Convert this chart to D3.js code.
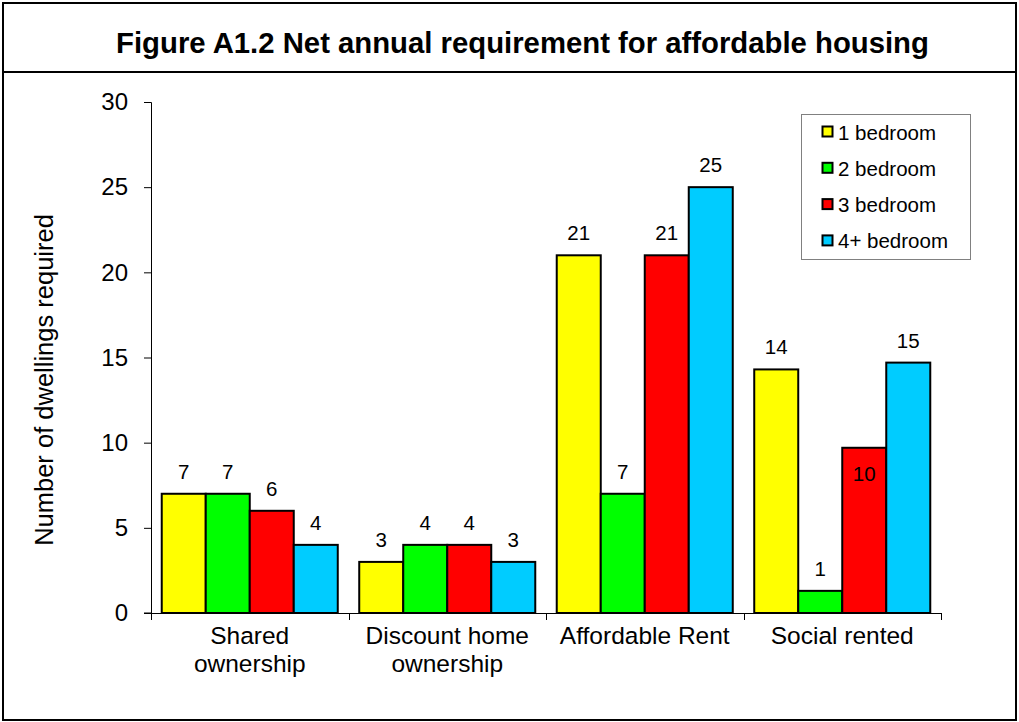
<!DOCTYPE html>
<html>
<head>
<meta charset="utf-8">
<script src="https://cdn.jsdelivr.net/npm/d3@7"></script>
<style>
  body { margin: 0; background: #fff; }
  svg text { font-family: Arial, "Liberation Sans", sans-serif; fill: #000; }
</style>
</head>
<body>
<div id="chart"></div>
<script>
var categories = ["Shared ownership", "Discount home ownership", "Affordable Rent", "Social rented"];
var series = ["1 bedroom", "2 bedroom", "3 bedroom", "4+ bedroom"];
var colors = ["#ffff00", "#00ff00", "#ff0000", "#00ccff"];
var oneBed  = [7, 3, 21, 14.3];
var twoBed  = [7, 4, 7, 1.3];
var threeBed = [6, 4, 21, 9.7];
var fourBed = [4, 3, 25, 14.7];
var yTicks = [0, 5, 10, 15, 20, 25, 30];
// labels that sit inside the bar top rather than above it
var insideLabels = [["Social rented", "3 bedroom"]];

var values = [oneBed, twoBed, threeBed, fourBed];
var W = 1019, H = 722;
var margin = {top: 102, right: 78, bottom: 109, left: 151 };
var width = W - margin.left - margin.right,
    height = H - margin.top - margin.bottom;

var svg = d3.select("#chart").append("svg")
    .attr("width", W)
    .attr("height", H);

// frame and title box
svg.append("rect")
    .attr("x", 3).attr("y", 3)
    .attr("width", W - 6).attr("height", H - 5)
    .attr("fill", "none").attr("stroke", "#000").attr("stroke-width", 2);
svg.append("line")
    .attr("x1", 3).attr("x2", W - 3)
    .attr("y1", 72).attr("y2", 72)
    .attr("stroke", "#000").attr("stroke-width", 2);
svg.append("text")
    .attr("x", W / 2 + 13).attr("y", 53)
    .attr("text-anchor", "middle")
    .style("font-size", "29.3px").style("font-weight", "bold")
    .text("Figure A1.2 Net annual requirement for affordable housing");

var g = svg.append("g")
    .attr("transform", "translate(" + margin.left + "," + margin.top + ")");

var x0 = d3.scaleBand().domain(categories).range([0, width]).padding(0);
var x1 = d3.scaleBand().domain(series).range([0, x0.bandwidth()])
    .paddingInner(0).paddingOuter(0.244);
var y = d3.scaleLinear().domain([0, 30]).range([height, 0]);

// y axis
var yAxis = g.append("g")
    .call(d3.axisLeft(y).tickValues(yTicks).tickSize(7).tickPadding(16).tickFormat(d3.format("d")));
yAxis.selectAll("text").style("font-size", "24px");
yAxis.selectAll("line, path").attr("stroke", "#000");
yAxis.select(".domain").attr("d", "M-7,0.5H0.5V" + height + "H-7");

var rows = [];
categories.forEach(function(c, i) {
  series.forEach(function(s, j) {
    rows.push({cat: c, ser: s, idx: j, v: values[j][i]});
  });
});

function isInside(d) {
  return insideLabels.some(function(p) { return p[0] === d.cat && p[1] === d.ser; });
}

var groups = g.selectAll(".grp")
    .data(categories)
  .enter().append("g")
    .attr("class", "grp")
    .attr("transform", function(d) { return "translate(" + x0(d) + ",0)"; });

groups.selectAll("rect")
    .data(function(c) { return rows.filter(function(r) { return r.cat === c; }); })
  .enter().append("rect")
    .attr("x", function(d) { return x1(d.ser); })
    .attr("y", function(d) { return y(d.v); })
    .attr("width", x1.bandwidth())
    .attr("height", function(d) { return y(0) - y(d.v); })
    .attr("fill", function(d) { return colors[d.idx]; })
    .attr("stroke", "#000")
    .attr("stroke-width", 2);

groups.selectAll(".lbl")
    .data(function(c) { return rows.filter(function(r) { return r.cat === c; }); })
  .enter().append("text")
    .attr("class", "lbl")
    .attr("x", function(d) { return x1(d.ser) + x1.bandwidth() / 2; })
    .attr("y", function(d) { return isInside(d) ? y(d.v) + 33 : y(d.v) - 15; })
    .attr("text-anchor", "middle")
    .style("font-size", "20.5px")
    .text(function(d) { return d3.format(".0f")(d.v); });

// x axis
var xAxis = g.append("g")
    .attr("transform", "translate(0," + height + ")");
xAxis.append("line")
    .attr("x1", 0).attr("x2", width)
    .attr("y1", 0.5).attr("y2", 0.5)
    .attr("stroke", "#000");
xAxis.selectAll(".tk")
    .data(d3.range(categories.length + 1))
  .enter().append("line")
    .attr("x1", function(i) { return Math.round(i * x0.step()) + 0.5; })
    .attr("x2", function(i) { return Math.round(i * x0.step()) + 0.5; })
    .attr("y1", 0).attr("y2", 7)
    .attr("stroke", "#000");

var catText = xAxis.selectAll(".cat")
    .data(categories)
  .enter().append("text")
    .attr("class", "cat")
    .attr("x", function(d) { return x0(d) + x0.bandwidth() / 2; })
    .attr("y", 31)
    .attr("text-anchor", "middle")
    .style("font-size", "24.5px");

// wrap two-line category names as Excel does
var wrapAt = {"Shared ownership": ["Shared", "ownership"],
              "Discount home ownership": ["Discount home", "ownership"]};
catText.each(function(d) {
  var lines = wrapAt[d] || [d];
  var t = d3.select(this);
  lines.forEach(function(l, k) {
    t.append("tspan")
      .attr("x", x0(d) + x0.bandwidth() / 2)
      .attr("dy", k === 0 ? 0 : 28)
      .text(l);
  });
});

// y axis title
svg.append("text")
    .attr("transform", "translate(53,380) rotate(-90)")
    .attr("text-anchor", "middle")
    .style("font-size", "25.5px")
    .text("Number of dwellings required");

// legend
var legend = svg.append("g").attr("transform", "translate(801,114)");
legend.append("rect")
    .attr("x", 0.5).attr("y", 0.5)
    .attr("width", 169).attr("height", 145)
    .attr("fill", "#fff").attr("stroke", "#808080").attr("stroke-width", 1);
var item = legend.selectAll(".item")
    .data(series)
  .enter().append("g")
    .attr("class", "item")
    .attr("transform", function(d, i) { return "translate(21," + (18 + i * 36.3) + ")"; });
item.append("rect")
    .attr("x", 0.5).attr("y", -5.5)
    .attr("width", 10).attr("height", 10)
    .attr("fill", function(d, i) { return colors[i]; })
    .attr("stroke", "#000").attr("stroke-width", 2);
item.append("text")
    .attr("x", 16).attr("y", 7.5)
    .style("font-size", "20.5px")
    .text(function(d) { return d; });
</script>
</body>
</html>
